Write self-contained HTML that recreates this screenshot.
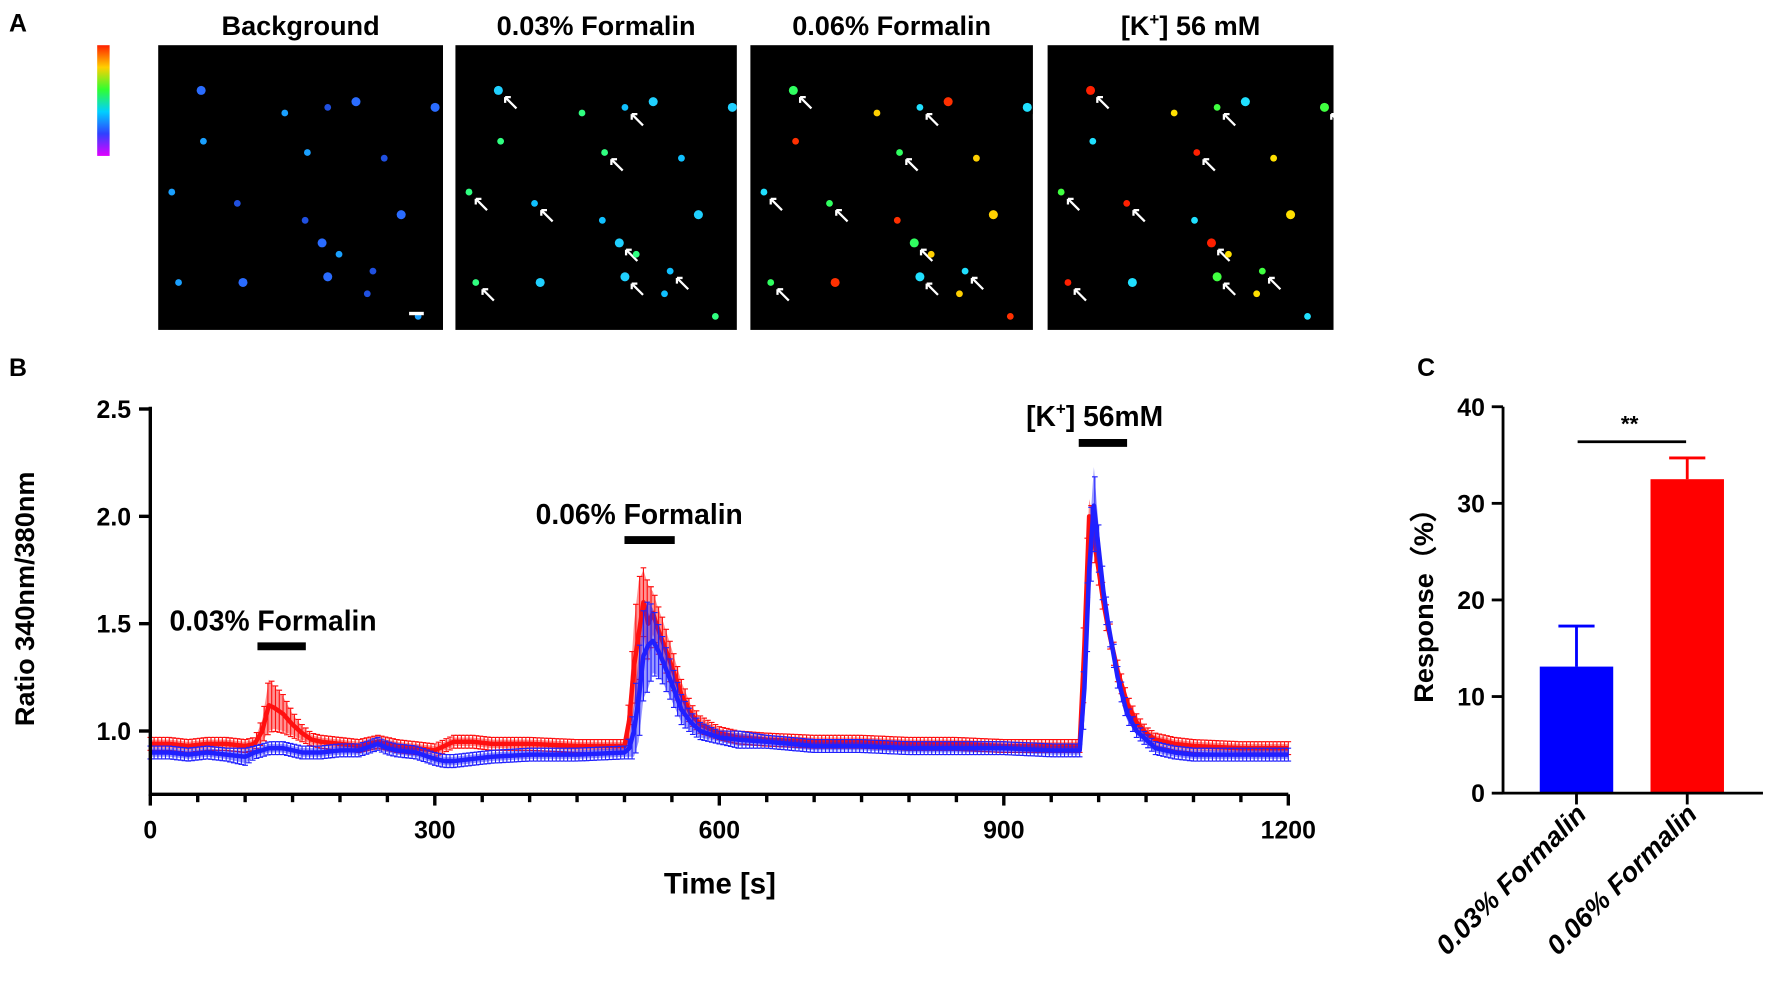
<!DOCTYPE html>
<html><head><meta charset="utf-8"><style>
html,body{margin:0;padding:0;background:#fff;}
svg{display:block;font-family:"Liberation Sans",Arial,sans-serif;}
</style></head><body>
<svg id="fig" width="1772" height="992" viewBox="0 0 1568 878" preserveAspectRatio="none">
<text x="8" y="28" font-size="22" font-weight="bold">A</text>
<defs><linearGradient id="cb" x1="0" y1="0" x2="0" y2="1">
<stop offset="0" stop-color="#ff2000"/><stop offset="0.2" stop-color="#ffd000"/><stop offset="0.4" stop-color="#30ff30"/><stop offset="0.6" stop-color="#00d0ff"/><stop offset="0.8" stop-color="#3040ff"/><stop offset="1" stop-color="#e000ff"/></linearGradient></defs>
<rect x="86" y="40" width="11" height="98" fill="url(#cb)"/>
<g id="panelsA"></g>
<text x="8" y="333" font-size="22" font-weight="bold">B</text>
<g id="chartB"></g>
<text x="1254" y="333" font-size="22" font-weight="bold">C</text>
<g id="chartC"></g>
</svg>
<script>
// ---- Panel B data ----
const bTimes = [0,20,40,60,80,100,110,118,125,130,140,150,160,170,180,200,220,240,250,260,280,300,310,320,340,360,400,450,500,505,510,515,520,525,530,535,540,550,560,570,580,600,620,650,700,750,800,850,900,950,980,985,990,995,1000,1005,1010,1020,1030,1040,1050,1060,1080,1100,1150,1200];
const redMean = [0.94,0.94,0.93,0.94,0.94,0.93,0.94,1.00,1.12,1.11,1.08,1.03,0.99,0.96,0.95,0.94,0.93,0.95,0.94,0.93,0.92,0.91,0.93,0.95,0.95,0.94,0.94,0.93,0.93,1.05,1.30,1.45,1.60,1.50,1.55,1.48,1.42,1.30,1.17,1.08,1.03,0.99,0.97,0.96,0.95,0.95,0.94,0.94,0.93,0.93,0.93,1.40,2.00,1.90,1.75,1.60,1.48,1.28,1.13,1.04,0.99,0.96,0.94,0.93,0.92,0.92];
const redErr = [0.02,0.02,0.02,0.02,0.02,0.02,0.02,0.05,0.12,0.10,0.08,0.05,0.03,0.02,0.02,0.02,0.02,0.02,0.02,0.02,0.02,0.02,0.02,0.02,0.02,0.02,0.02,0.02,0.02,0.10,0.20,0.25,0.15,0.18,0.10,0.10,0.10,0.08,0.06,0.04,0.03,0.02,0.02,0.02,0.02,0.02,0.02,0.02,0.02,0.02,0.02,0.20,0.08,0.08,0.06,0.05,0.05,0.04,0.03,0.03,0.02,0.02,0.02,0.02,0.02,0.02];
const blueMean = [0.90,0.90,0.89,0.90,0.89,0.88,0.90,0.91,0.92,0.92,0.92,0.91,0.90,0.90,0.90,0.91,0.91,0.94,0.92,0.91,0.90,0.87,0.86,0.86,0.87,0.88,0.89,0.89,0.90,0.92,1.00,1.15,1.35,1.40,1.42,1.38,1.33,1.22,1.10,1.04,1.00,0.97,0.96,0.95,0.93,0.93,0.92,0.92,0.92,0.91,0.91,1.20,1.75,2.05,1.85,1.65,1.50,1.25,1.08,1.00,0.96,0.92,0.90,0.89,0.89,0.89];
const blueErr = [0.02,0.02,0.02,0.02,0.02,0.03,0.02,0.02,0.02,0.02,0.02,0.02,0.02,0.02,0.02,0.02,0.02,0.02,0.02,0.02,0.02,0.02,0.02,0.02,0.02,0.02,0.02,0.02,0.02,0.04,0.12,0.20,0.20,0.20,0.15,0.12,0.10,0.08,0.06,0.04,0.03,0.02,0.03,0.02,0.02,0.02,0.02,0.02,0.02,0.02,0.02,0.15,0.15,0.18,0.10,0.06,0.05,0.04,0.03,0.02,0.02,0.02,0.02,0.02,0.02,0.02];
const bXTicks = [0,300,600,900,1200];
const bYTicks = [1.0,1.5,2.0,2.5];
const bStimuli = [["0.03% Formalin",113,164],["0.06% Formalin",500,553],["[K+] 56mM",979,1030]];
// ---- Panel C data ----
const cCategories = ["0.03% Formalin","0.06% Formalin"];
const cValues = [13.1,32.5];
const cErrors = [4.2,2.2];
const cYTicks = [0,10,20,30,40];

const NS="http://www.w3.org/2000/svg";
function el(tag,attrs,parent,text){const e=document.createElementNS(NS,tag);for(const k in attrs)e.setAttribute(k,attrs[k]);if(text!==undefined)e.textContent=text;parent.appendChild(e);return e;}

(function(){
  const g=document.getElementById('panelsA');
  const titles=["Background","0.03% Formalin","0.06% Formalin","[K+] 56 mM"];
  const xs=[140,403,664,927], ws=[252,249,250,253];
  const dots=[[38,40],[112,60],[150,55],[175,50],[132,95],[200,100],[245,55],[40,85],[70,140],[215,150],[12,130],[130,155],[145,175],[160,185],[190,200],[75,210],[18,210],[185,220],[150,205],[230,240]];
  const pal=[["#2a6cff","#1aa0ff","#2050e0"],["#20d0ff","#30ff80","#10c0ff"],["#30ff60","#ffd000","#20e0ff","#ff3000"],["#ff2000","#ffe000","#40ff40","#20e0ff"]];
  titles.forEach((t,i)=>{
    const r=el('rect',{x:xs[i],y:40,width:ws[i],height:252,fill:'#000'},g);
    
    
    const tx=el('text',{x:xs[i]+ws[i]/2,y:31,'font-size':24,'font-weight':'bold','text-anchor':'middle'},g,i===3?'':t);
    if(i===3){el('tspan',{},tx,'[K');el('tspan',{'font-size':15,dy:-9},tx,'+');el('tspan',{dy:9},tx,'] 56 mM');}
    
    
    dots.forEach((d,j)=>{
      const c=el('circle',{cx:xs[i]+d[0],cy:40+d[1],r:(j%3===0?4:3),fill:pal[i][j%pal[i].length]},g);
      
      
      if(i>0&&j%2===0){const a=el('path',{d:`M${xs[i]+d[0]+6} ${40+d[1]+6} l10 10 M${xs[i]+d[0]+6} ${40+d[1]+6} l5 0 M${xs[i]+d[0]+6} ${40+d[1]+6} l0 5`,stroke:'#fff','stroke-width':2,fill:'none'},g);
        
        }
    });
  });
  el('rect',{x:362,y:276,width:13,height:3,fill:'#fff'},g);
})();

(function(){
  const g=document.getElementById('chartB');
  const x=t=>133+(t/1200)*(1140-133);
  const y=v=>647-(v-1.0)*190;
  const y0=703;
  function drawSeries(mean,err,color,name){
    let up='',dn='';
    bTimes.forEach((t,i)=>{up+=(i?'L':'M')+x(t)+' '+y(mean[i]+err[i]);});
    for(let i=bTimes.length-1;i>=0;i--)dn+='L'+x(bTimes[i])+' '+y(mean[i]-err[i]);
    const band=el('path',{d:up+dn+'Z',fill:color,opacity:0.45},g);
    
    
    for(let t=0;t<=1200;t+=4){
      let k=0;while(k<bTimes.length-2&&bTimes[k+1]<t)k++;
      const f=(t-bTimes[k])/(bTimes[k+1]-bTimes[k]);
      const m=mean[k]+(mean[k+1]-mean[k])*f, e=err[k]+(err[k+1]-err[k])*f+0.01;
      const eb=el('path',{d:`M${x(t)} ${y(m-e)}V${y(m+e)}M${x(t)-2.5} ${y(m+e)}h5M${x(t)-2.5} ${y(m-e)}h5`,stroke:color,'stroke-width':1,fill:'none'},g);
      
      
    }
    const pts=bTimes.map((t,i)=>x(t)+','+y(mean[i])).join(' ');
    const pl=el('polyline',{points:pts,stroke:color,'stroke-width':4,fill:'none','stroke-linejoin':'round'},g);
    
    
  }
  drawSeries(redMean,redErr,'#ff1010','red-series');
  drawSeries(blueMean,blueErr,'#2020ff','blue-series');
  const ax=el('path',{d:`M133 360V${y0}H1140`,stroke:'#000','stroke-width':3,fill:'none'},g);
  
  
  for(let t=0;t<=1200;t+=50){
    const major=bXTicks.includes(t);
    el('line',{x1:x(t),x2:x(t),y1:y0,y2:y0+(major?10:7),stroke:'#000','stroke-width':3},g);
  }
  bXTicks.forEach(t=>{const tl=el('text',{x:x(t),y:y0+39,'font-size':22,'font-weight':'bold','text-anchor':'middle'},g,t);
    
    });
  bYTicks.forEach(v=>{el('line',{x1:123,x2:133,y1:y(v),y2:y(v),stroke:'#000','stroke-width':3},g);
    const tl=el('text',{x:116,y:y(v)+8,'font-size':22,'font-weight':'bold','text-anchor':'end'},g,v.toFixed(1));
    
    });
  const xt=el('text',{x:637,y:791,'font-size':26,'font-weight':'bold','text-anchor':'middle'},g,'Time [s]');
  
  
  const yt=el('text',{x:0,y:0,'font-size':24,'font-weight':'bold','text-anchor':'middle',transform:'translate(30,530) rotate(-90)'},g,'Ratio 340nm/380nm');
  
  
  const ly=[572,478,392], tyy=[558,464,377];
  bStimuli.forEach((s,i)=>{
    const b=el('line',{x1:x(s[1]),x2:x(s[2]),y1:ly[i],y2:ly[i],stroke:'#000','stroke-width':7},g);
    
    
    let tx;
    if(i===2){tx=el('text',{x:908,y:tyy[i],'font-size':25,'font-weight':'bold'},g);
      el('tspan',{},tx,'[K');el('tspan',{'font-size':15,dy:-10},tx,'+');el('tspan',{dy:10},tx,'] 56mM');}
    else tx=el('text',{x:[150,474][i],y:tyy[i],'font-size':25,'font-weight':'bold'},g,s[0]);
    
    
  });
})();

(function(){
  const g=document.getElementById('chartC');
  const y=v=>702-v*(342/40);
  const cx=[1395,1493], bw=65;
  cValues.forEach((v,i)=>{
    const col=i?'#ff0000':'#0000ff';
    const r=el('rect',{x:cx[i]-bw/2,y:y(v),width:bw,height:702-y(v),fill:col},g);
    
    
    const e=el('path',{d:`M${cx[i]} ${y(v)}V${y(v+cErrors[i])}M${cx[i]-16} ${y(v+cErrors[i])}h32`,stroke:col,'stroke-width':2.5,fill:'none'},g);
    
    
    const lb=el('text',{x:0,y:0,'font-size':24,'font-weight':'bold','font-style':'italic','text-anchor':'end',transform:`translate(${cx[i]+10},${722}) rotate(-45)`},g,cCategories[i]);
    
    
    el('line',{x1:cx[i],x2:cx[i],y1:702,y2:712,stroke:'#000','stroke-width':2.5},g);
  });
  const ax=el('path',{d:'M1330 360V702H1560',stroke:'#000','stroke-width':2.5,fill:'none'},g);
  
  
  cYTicks.forEach(v=>{el('line',{x1:1320,x2:1330,y1:y(v),y2:y(v),stroke:'#000','stroke-width':2.5},g);
    const tl=el('text',{x:1314,y:y(v)+8,'font-size':22,'font-weight':'bold','text-anchor':'end'},g,v);
    
    });
  const yt=el('text',{x:0,y:0,'font-size':24,'font-weight':'bold','text-anchor':'middle',transform:'translate(1268,530) rotate(-90)'},g,'Response（%）');
  
  
  const sl=el('line',{x1:1396,x2:1492,y1:391,y2:391,stroke:'#000','stroke-width':2.5},g);
  
  
  const st=el('text',{x:1442,y:382,'font-size':20,'font-weight':'bold','text-anchor':'middle'},g,'**');
  
  
})();
</script>
</body></html>
